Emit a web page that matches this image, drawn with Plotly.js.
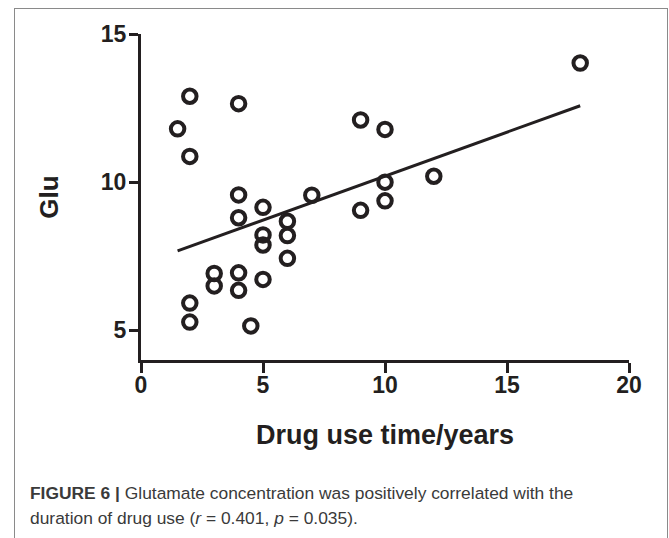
<!DOCTYPE html>
<html>
<head>
<meta charset="utf-8">
<script src="https://cdn.plot.ly/plotly-3.0.1.min.js"></script>
<style>
  html, body { margin: 0; padding: 0; background: #ffffff; }
  #wrap { position: relative; width: 669px; height: 538px; overflow: hidden; }
  #chart { position: absolute; left: 0; top: 0; width: 669px; height: 538px; }
  #frame { position: absolute; left: 14px; top: 8px; width: 652px; height: 560px;
           border: 1px solid #8a8a8a; pointer-events: none; }
</style>
</head>
<body>
<div id="wrap">
  <div id="chart"></div>
  <div id="frame"></div>
</div>
<script>
// Drug use time (years) for each subject
const drugYears = [1.5, 2, 2, 4, 4, 7, 5, 4, 6, 5, 6, 5, 6, 3, 4, 5, 3, 4, 2, 2, 4.5, 9, 10, 10, 12, 10, 9, 18];
// Glutamate concentration (Glu) for each subject
const gluValues = [11.8, 12.9, 10.87, 12.65, 9.57, 9.56, 9.15, 8.8, 8.68, 8.22, 8.2, 7.88, 7.43, 6.92, 6.94, 6.72, 6.5, 6.35, 5.92, 5.28, 5.15, 12.1, 11.78, 10.0, 10.2, 9.37, 9.05, 14.02];
// Linear fit line endpoints
const fitX = [1.5, 18];
const fitY = [7.68, 12.58];
// Axis ticks
const xTicks = [0, 5, 10, 15, 20];
const yTicks = [5, 10, 15];

const ink = '#231f20';
const tickFont = { family: 'Liberation Sans, Arial, sans-serif', size: 23, color: ink, weight: 'bold' };

const traces = [
  {
    x: fitX, y: fitY, type: 'scatter', mode: 'lines',
    line: { color: ink, width: 3 }, hoverinfo: 'skip', showlegend: false
  },
  {
    x: drugYears, y: gluValues, type: 'scatter', mode: 'markers',
    marker: { symbol: 'circle-open', size: 13.5, color: ink, line: { color: ink, width: 4 } },
    showlegend: false
  }
];

const layout = {
  width: 669, height: 538,
  margin: { l: 141, r: 40, t: 34, b: 178 },
  paper_bgcolor: 'rgba(0,0,0,0)', plot_bgcolor: 'rgba(0,0,0,0)',
  showlegend: false,
  xaxis: {
    range: [0, 20], tickvals: xTicks, ticktext: xTicks.map(String),
    showgrid: false, zeroline: false,
    showline: true, linecolor: ink, linewidth: 3,
    ticks: 'outside', ticklen: 10, tickwidth: 3, tickcolor: ink,
    tickfont: tickFont, ticklabelstandoff: -8,
    title: { text: '<b>Drug use time/years</b>', standoff: 29,
             font: { family: 'Liberation Sans, Arial, sans-serif', size: 27, color: ink } }
  },
  yaxis: {
    range: [4, 15], tickvals: yTicks, ticktext: yTicks.map(String),
    showgrid: false, zeroline: false,
    showline: true, linecolor: ink, linewidth: 3,
    ticks: 'outside', ticklen: 9, tickwidth: 3, tickcolor: ink,
    tickfont: tickFont, ticklabelstandoff: -2,
    title: { text: '<b>Glu</b>', standoff: 35,
             font: { family: 'Liberation Sans, Arial, sans-serif', size: 26, color: ink } }
  },
  annotations: [
    {
      xref: 'paper', yref: 'paper', x: (28 - 141) / 488, y: (360 - 493) / 326,
      xanchor: 'left', yanchor: 'middle', showarrow: false, align: 'left',
      text: '<b>FIGURE 6 |</b> Glutamate concentration was positively correlated with the',
      font: { family: 'Liberation Sans, Arial, sans-serif', size: 17.4, color: '#3a3a3a' }
    },
    {
      xref: 'paper', yref: 'paper', x: (28 - 141) / 488, y: (360 - 518) / 326,
      xanchor: 'left', yanchor: 'middle', showarrow: false, align: 'left',
      text: 'duration of drug use (<i>r</i> = 0.401, <i>p</i> = 0.035).',
      font: { family: 'Liberation Sans, Arial, sans-serif', size: 17.4, color: '#3a3a3a' }
    }
  ]
};

Plotly.newPlot('chart', traces, layout, { staticPlot: true, displayModeBar: false });
</script>
</body>
</html>
